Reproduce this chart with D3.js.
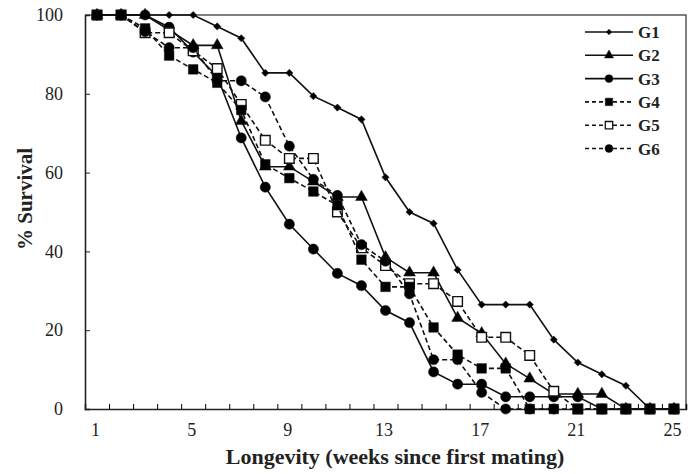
<!DOCTYPE html>
<html>
<head>
<meta charset="utf-8">
<script src="https://cdn.jsdelivr.net/npm/d3@7"></script>
<style>
  body { margin: 0; background: #fff; }
  text { font-family: "Liberation Serif", "Times New Roman", serif; fill: #222; }
</style>
</head>
<body>
<div id="chart"></div>
<script>
const weeks = [1, 2, 3, 4, 5, 6, 7, 8, 9, 10, 11, 12, 13, 14, 15, 16, 17, 18, 19, 20, 21, 22, 23, 24, 25];
const weekLabels = [1, 5, 9, 13, 17, 21, 25];
const survivalTicks = [0, 20, 40, 60, 80, 100];

const g1 = [100, 100, 100, 100, 100, 97.1, 94.1, 85.3, 85.3, 79.4, 76.5, 73.5, 58.8, 50, 47.1, 35.3, 26.5, 26.5, 26.5, 17.6, 11.8, 8.8, 5.9, 0, 0];
const g2 = [100, 100, 100, 96.2, 92.3, 92.3, 73.1, 61.5, 61.5, 57.7, 53.8, 53.8, 38.5, 34.6, 34.6, 23.1, 19.2, 11.5, 7.7, 3.8, 3.8, 3.8, 0, 0, 0];
const g3 = [100, 100, 100, 96.9, 90.6, 84.4, 68.8, 56.3, 46.9, 40.6, 34.4, 31.3, 25, 21.9, 9.4, 6.3, 6.3, 3.1, 3.1, 3.1, 3.1, 0, 0, 0, 0];
const g4 = [100, 100, 96.6, 89.7, 86.2, 82.8, 75.9, 62.1, 58.6, 55.2, 51.7, 37.9, 31, 31, 20.7, 13.8, 10.3, 10.3, 0, 0, 0, 0, 0, 0, 0];
const g5 = [100, 100, 95.5, 95.5, 90.9, 86.4, 77.3, 68.2, 63.6, 63.6, 50, 40.9, 36.4, 31.8, 31.8, 27.3, 18.2, 18.2, 13.6, 4.5, 0, 0, 0, 0, 0];
const g6 = [100, 100, 95.8, 91.7, 91.7, 83.3, 83.3, 79.2, 66.7, 58.3, 54.2, 41.7, 37.5, 29.2, 12.5, 12.5, 4.2, 0, 0, 0, null, null, null, null, null];

const seriesNames = ['G1', 'G2', 'G3', 'G4', 'G5', 'G6'];
const seriesValues = [g1, g2, g3, g4, g5, g6];
// filled squares of G4 sit on top of the open G5 squares
const drawOrder = [0, 1, 2, 4, 3, 5];

// marker / line style per group
const styles = {
    G1: {shape: 'diamond', dashed: false, fill: '#000'},
    G2: {shape: 'triangle', dashed: false, fill: '#000'},
    G3: {shape: 'circle', dashed: false, fill: '#000'},
    G4: {shape: 'square', dashed: true, fill: '#000'},
    G5: {shape: 'square', dashed: true, fill: '#fff'},
    G6: {shape: 'circle', dashed: true, fill: '#000'}
};

const width = 694, height = 474;
const plotLeft = 85, plotRight = 686, plotTop = 15, plotBottom = 409;

const svg = d3.select('#chart')
    .append('svg')
    .attr('width', width)
    .attr('height', height);

const x = d3.scaleLinear()
    .domain([0.5, weeks.length + 0.5])
    .range([plotLeft, plotRight]);

const y = d3.scaleLinear()
    .domain([0, 100])
    .range([plotBottom, plotTop]);

// frame (top and right)
svg.append('path')
    .attr('d', `M${plotLeft},${plotTop}H${plotRight}V${plotBottom}`)
    .attr('fill', 'none')
    .attr('stroke', '#555')
    .attr('stroke-width', 1.5);

// x axis: ticks between categories, labels on categories
const tickBounds = weeks.map(w => w - 0.5).concat([weeks.length + 0.5]);
svg.append('g')
    .attr('transform', `translate(0,${plotBottom})`)
    .call(d3.axisBottom(x).tickValues(tickBounds).tickSize(-5).tickFormat(''))
    .call(g => g.select('.domain').attr('stroke', '#222').attr('stroke-width', 1.6));

svg.append('g')
    .attr('transform', `translate(-2,${plotBottom})`)
    .call(d3.axisBottom(x).tickValues(weekLabels).tickSize(0).tickPadding(14))
    .call(g => g.select('.domain').remove())
    .call(g => g.selectAll('text')
        .style('font-family', '"Liberation Serif", serif')
        .style('font-size', '18px')
        .attr('fill', '#222'));

// y axis
svg.append('g')
    .attr('transform', `translate(${plotLeft},0)`)
    .call(d3.axisLeft(y).tickValues(survivalTicks).tickSize(-5).tickPadding(22))
    .call(g => g.select('.domain').attr('stroke', '#222').attr('stroke-width', 1.6))
    .call(g => g.selectAll('.tick line').attr('stroke', '#222'))
    .call(g => g.selectAll('text')
        .style('font-family', '"Liberation Serif", serif')
        .style('font-size', '18px')
        .attr('fill', '#222'));

// axis titles
svg.append('text')
    .attr('x', 395)
    .attr('y', 464)
    .attr('text-anchor', 'middle')
    .style('font-size', '22px')
    .style('font-weight', 'bold')
    .text('Longevity (weeks since first mating)');

svg.append('text')
    .attr('transform', 'translate(32,199) rotate(-90)')
    .attr('text-anchor', 'middle')
    .style('font-size', '21px')
    .style('font-weight', 'bold')
    .text('% Survival');

function symbolPath(shape, scale) {
    if (shape === 'diamond') return d3.symbol(d3.symbolSquare, 26 * scale)();
    if (shape === 'triangle') return d3.symbol(d3.symbolTriangle, 60 * scale)();
    if (shape === 'circle') return d3.symbol(d3.symbolCircle, 82 * scale)();
    return d3.symbol(d3.symbolSquare, 92 * scale)();
}

const line = d3.line()
    .defined(d => d.value != null)
    .x(d => x(d.week))
    .y(d => y(d.value));

drawOrder.forEach(k => {
    const name = seriesNames[k];
    const st = styles[name];
    const points = weeks.map((w, i) => ({week: w, value: seriesValues[k][i]}));

    svg.append('path')
        .datum(points)
        .attr('d', line)
        .attr('fill', 'none')
        .attr('stroke', '#111')
        .attr('stroke-width', 1.6)
        .attr('stroke-dasharray', st.dashed ? '5,3' : null);

    svg.append('g')
        .selectAll('path')
        .data(points.filter(d => d.value != null))
        .enter()
        .append('path')
        .attr('d', symbolPath(st.shape, 1))
        .attr('transform', d => `translate(${x(d.week)},${y(d.value)})` + (st.shape === 'diamond' ? ' rotate(45)' : ''))
        .attr('fill', st.fill)
        .attr('stroke', '#111')
        .attr('stroke-width', st.fill === '#fff' ? 1.4 : 0.5);
});

// legend
const legend = svg.append('g');
seriesNames.forEach((name, k) => {
    const st = styles[name];
    const ly = 32 + k * 23.3;
    legend.append('line')
        .attr('x1', 585).attr('x2', 633)
        .attr('y1', ly).attr('y2', ly)
        .attr('stroke', '#111')
        .attr('stroke-width', 1.6)
        .attr('stroke-dasharray', st.dashed ? '4,3' : null);
    legend.append('path')
        .attr('d', symbolPath(st.shape, 0.6))
        .attr('transform', `translate(609,${ly})` + (st.shape === 'diamond' ? ' rotate(45)' : ''))
        .attr('fill', st.fill)
        .attr('stroke', '#111')
        .attr('stroke-width', st.fill === '#fff' ? 1.3 : 0.5);
    legend.append('text')
        .attr('x', 638)
        .attr('y', ly + 6)
        .style('font-size', '17px')
        .style('font-weight', 'bold')
        .text(name);
});
</script>
</body>
</html>
